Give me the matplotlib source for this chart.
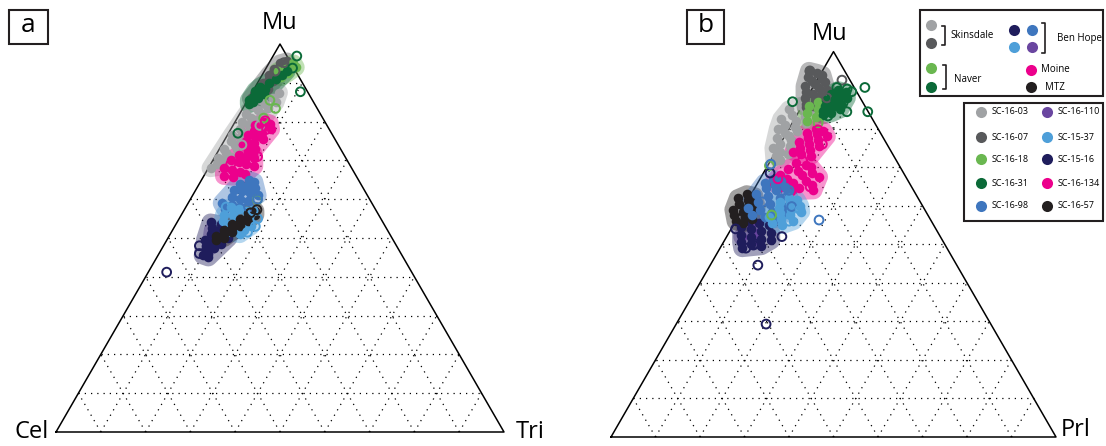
import numpy as np
import matplotlib.pyplot as plt
from matplotlib.patches import Polygon, Rectangle

plt.rcParams['font.family'] = ['Open Sans', 'DejaVu Sans']

# All points are (Mu %, Tri %) for panel a and (Mu %, Prl %) for panel b,
# read off the reference figure.

# ---- panel a ----
a_0603 = [(87.5, 6), (86, 5.5), (85.5, 3), (85, 6.5), (84.5, 4.5), (84, 2), (83.5, 5.5),
          (83, 3.5), (82, 1.5), (82, 5), (81, 3), (80.5, 4.5), (80, 1.5), (79, 3.5),
          (78.5, 5), (78, 2), (77, 4), (76.5, 1), (76, 3), (75, 5), (75, 1.5), (74, 3),
          (73, 1), (73, 4), (72, 2), (71, 3.5), (70.5, 0.8), (70, 2.5), (69, 1.5),
          (68.5, 3), (68, 0.5)]
a_0603_open = [(79, 6), (74, 4.5)]
a_0607 = [(95.5, 3.8), (95, 2.5), (94.5, 4), (94, 3), (93.5, 2), (93, 3.5), (92.5, 2.5),
          (92, 1.5), (91.5, 3), (91, 2), (90.5, 3.2), (90, 1.2), (89.5, 2.5), (89, 1.5),
          (88.5, 3), (88, 1), (87.5, 2), (87, 0.8), (86.5, 1.8), (86, 0.5), (85.5, 1.2)]
a_0607_open = [(95.2, 3.3), (93, 2.4)]
a_0618 = [(95, 5.5), (94, 6.5), (93.5, 4.5), (92.5, 5.5), (91.5, 4.5), (93, 3)]
a_0618_open = [(83.4, 7.3), (80.9, 5.9), (59.9, 15), (85.5, 5)]
a_0631 = [(93, 5), (92, 4.5), (91, 3.5), (90, 2.5), (89, 1), (88.5, 2.5), (88, 0.5),
          (87.5, 1.8), (87, 3), (86.5, 1), (86, 2.2), (85.5, 0.3), (85, 1.5), (84.5, 0.8)]
a_0631_open = [(96.9, 5.3), (93.8, 5.9), (87.7, 10.7), (77, 2.1), (88, 2.5), (86, 1.2)]
a_0698 = [(65, 10.5), (64.5, 12), (64, 9), (63.5, 11), (63, 13), (62.5, 8.5), (62, 10.5),
          (61.5, 12.5), (61, 14.5), (60.5, 9), (60, 11), (59.5, 13), (59, 7.5), (58.5, 10),
          (58, 12), (57.5, 9)]
a_0698_open = [(60, 15), (58, 14)]
a_16110 = [(52, 9), (50, 10), (48, 10.5)]
a_1537 = [(58, 10), (57.5, 12), (57, 14), (56, 9.5), (56, 11.5), (55.5, 16), (55, 13),
          (54.5, 10), (54, 15), (53.5, 12), (53, 17), (52.5, 14), (52, 16), (51.5, 12.5),
          (51, 15.5)]
a_1537_open = [(55, 17.5), (53, 18), (51.5, 17), (57, 15.5), (58, 9)]
a_1516 = [(54, 7.5), (53.5, 10), (53, 12), (52.5, 8.5), (52, 10.5), (51.5, 13), (51, 9),
          (50.5, 11), (50, 13.5), (49.5, 8.5), (49, 10.5), (48.5, 12.5), (48, 9.5),
          (47.5, 11.5), (47, 10), (46, 11), (45.5, 10), (45, 11.5)]
a_1516_open = [(41.2, 4.1), (46, 9), (48, 8)]
a_134_1 = [(80, 6.5), (79.5, 8), (79, 5), (78.5, 7), (78, 9), (77.5, 5.5), (77, 7.5),
           (76.5, 4.5), (76, 6.5), (75.5, 8.5), (75, 5), (74.5, 7), (74, 4.5), (73.5, 6),
           (73, 8)]
a_134_2 = [(72.5, 6.5), (72, 8), (71.5, 5), (71, 7), (70.5, 9), (70, 4), (69.5, 6), (69, 8),
           (68.5, 10), (68, 3.5), (67.5, 5.5), (67, 7.5), (66.5, 9), (66, 4.5), (65.8, 6.5)]
a_134_open = [(80.2, 6.6), (78, 8), (71, 9.5), (69, 4.5)]
a_1657 = [(57, 16), (56.5, 14.5), (56, 16.5), (55.5, 15), (55, 13.5), (54.5, 15.5), (54, 14),
          (53.5, 12.5), (53, 14.5), (52.5, 13), (52, 11.5), (51.5, 13.5), (51, 12),
          (50.5, 10.5), (50, 12.5), (49.5, 11)]
a_1657_open = [(57.3, 16.2), (56.5, 15.2)]

# ---- panel b ----
b_0603 = [(86, 0), (85.5, 3), (85, -2.5), (84.5, 1.5), (84, 4), (83.5, -1), (83, 2),
          (82.5, -3), (82, 0.5), (81.5, 3), (81, -1.5), (80.5, 1), (80, -2.5), (79.5, 2),
          (79, -0.5), (78, 1), (77.5, -1.5), (77, 2), (76, 0), (75.5, 2.5), (75, -1),
          (74, 1), (73.5, 3), (73, 0.5), (72, 2), (71.5, 1)]
b_0607 = [(95, -3), (94.5, -1), (94, 0.5), (93.5, -2.5), (93, 1), (92.5, -1), (92, 2),
          (91.5, 0), (91, -2), (90.5, 1.5), (90, 3.5), (89.5, -1), (89, 1), (88.5, 3),
          (88, -0.5), (87.5, 2), (87, 4), (86.5, 0.5), (86, 2.5), (85.5, 1)]
b_0607_open = [(95, -2.8), (92.6, 5.6), (93.5, 0), (88, 4.5)]
b_0618 = [(87, 3), (86, 1.5), (85, 4), (84, 2), (83, 4.5), (82, 3)]
b_0618_open = [(81.5, 5.8), (70.4, 0.4), (57.6, 7.3)]
b_0631 = [(90, 6), (89.5, 8), (89, 5), (88.5, 7), (88, 9), (87.5, 4.5), (87, 6.5),
          (86.5, 8.5), (86, 5), (85.5, 7), (85, 9), (84.5, 5.5), (84, 7.5), (83.5, 6)]
b_0631_open = [(90.7, 5.4), (90.3, 7.9), (89.6, 9.3), (90.7, 11.7), (86.7, 8.8), (84.4, 10.8),
               (84.4, 15.5), (87, -2.7), (83.3, 7.1), (87.4, 6.8)]
b_0698 = [(67, 3), (66.5, 5), (66, 1.5), (65.5, 4), (65, 6.5), (64.5, 2.5), (64, 5), (63.5, 8),
          (63, 1), (62.5, 4), (62, 7), (61.5, 9.5), (61, 2.5), (60.5, 5.5), (60, 8.5),
          (59.5, 1), (59, 4), (58.5, 7), (58, 10), (57.5, 3), (57, 6), (56.5, 8.5)]
b_0698_open = [(56.3, 18.6), (63.9, 6.4), (59.8, 10.7), (70.8, 0.5), (61, 3.5), (64, 8)]
b_16110 = [(55, 4), (53, 6), (51, 7), (52, 3.5)]
b_1537 = [(62, 9), (61.5, 11), (61, 7.5), (60.5, 10), (60, 12.5), (59.5, 8), (59, 11),
          (58.5, 13.5), (58, 9), (57.5, 11.5), (57, 7), (56.5, 10), (56, 13), (55.5, 8.5),
          (55, 11)]
b_1537_open = [(59, 13), (56, 12)]
b_1516 = [(56, 3), (55.5, 5.5), (55, 8), (54.5, 2), (54, 4.5), (53.5, 7), (53, 9.5), (52.5, 3),
          (52, 5.5), (51.5, 8), (51, 10.5), (50.5, 4), (50, 6.5), (49.5, 9), (49, 5)]
b_1516_open = [(49, 5.8), (50.1, 7.3), (52, 12.4), (44.6, 10.7), (29.3, 20.2), (68.5, 1.5),
               (49.8, 7.1), (54, 1)]
b_1657 = [(63, -1), (62.5, 1), (62, -2.5), (61.5, 0), (61, 2), (60.5, -1.5), (60, 1),
          (59.5, 3), (59, -2), (58.5, 0.5), (58, 2.5), (57.5, -1), (57, 1.5), (56.5, 3.5),
          (56, 0), (55.5, 2)]
b_134_1 = [(80, 6), (79.5, 8), (79, 4.5), (78.5, 7), (78, 9.5), (77.5, 5.5), (77, 8), (76.5, 4),
           (76, 6.5), (75.5, 9), (75, 5), (74.5, 7.5), (74, 4), (73.5, 6), (73, 8.5)]
b_134_2 = [(71, 6), (70.5, 8.5), (70, 10), (69.5, 5), (69, 7.5), (68.5, 11), (68, 4), (68, 9),
           (67.5, 13), (67, 6), (66.5, 10.5), (66, 3.5), (66, 8), (65.5, 12.5), (65, 5.5),
           (64.5, 10), (64, 13.5), (63.8, 8.5)]
b_134_open = [(79.7, 6.7), (71.7, 7.2), (64.9, 12.3), (67, 4), (76, 9.5)]

samples = ['SC-16-03', 'SC-16-07', 'SC-16-18', 'SC-16-31', 'SC-16-98',
           'SC-16-110', 'SC-15-37', 'SC-15-16', 'SC-16-134', 'SC-16-57']
colors = ['#a0a2a4', '#58595b', '#6ab750', '#0b6a38', '#3e76be',
          '#6a46a0', '#4e9fd9', '#1f1d5c', '#ec008c', '#231f20']
col = dict(zip(samples, colors))

# draw order: (sample, filled groups, open circles)
layers_a = [('SC-16-03', [a_0603], a_0603_open), ('SC-16-07', [a_0607], a_0607_open),
            ('SC-16-18', [a_0618], a_0618_open), ('SC-16-31', [a_0631], a_0631_open),
            ('SC-16-134', [a_134_1, a_134_2], a_134_open),
            ('SC-16-110', [a_16110], []), ('SC-15-16', [a_1516], a_1516_open),
            ('SC-16-98', [a_0698], a_0698_open), ('SC-15-37', [a_1537], a_1537_open),
            ('SC-16-57', [a_1657], a_1657_open)]
layers_b = [('SC-16-03', [b_0603], []), ('SC-16-07', [b_0607], b_0607_open),
            ('SC-16-18', [b_0618], b_0618_open), ('SC-16-31', [b_0631], b_0631_open),
            ('SC-16-134', [b_134_1, b_134_2], b_134_open),
            ('SC-16-110', [b_16110], []), ('SC-15-16', [b_1516], b_1516_open),
            ('SC-16-57', [b_1657], []),
            ('SC-16-98', [b_0698], b_0698_open), ('SC-15-37', [b_1537], b_1537_open)]

W, H = 1106, 446
fig = plt.figure(figsize=(W / 100, H / 100), dpi=100)
SQ3 = np.sqrt(3) / 2


def to_xy(pts):
    p = np.asarray(pts, dtype=float) / 100.0
    return np.column_stack([p[:, 1] + p[:, 0] / 2, p[:, 0] * SQ3])


def convex_hull(pts):
    pts = sorted(map(tuple, pts))

    def cross(o, a, b):
        return (a[0] - o[0]) * (b[1] - o[1]) - (a[1] - o[1]) * (b[0] - o[0])

    lower, upper = [], []
    for p in pts:
        while len(lower) >= 2 and cross(lower[-2], lower[-1], p) <= 0:
            lower.pop()
        lower.append(p)
    for p in reversed(pts):
        while len(upper) >= 2 and cross(upper[-2], upper[-1], p) <= 0:
            upper.pop()
        upper.append(p)
    return np.array(lower[:-1] + upper[:-1])


def halo(xy, r):
    ang = np.linspace(0, 2 * np.pi, 24, endpoint=False)
    ring = xy[:, None, :] + r * np.column_stack([np.cos(ang), np.sin(ang)])[None]
    return convex_hull(ring.reshape(-1, 2))


def panel(x0, x1, left, base, side):
    ax = fig.add_axes([x0 / W, 0, (x1 - x0) / W, 1])
    ax.set_xlim((x0 - left) / side, (x1 - left) / side)
    ax.set_ylim((base - H) / side, base / side)
    ax.axis('off')
    ax.plot([0, 1, 0.5, 0], [0, 0, SQ3, 0], color='k', lw=1.1, zorder=1)
    for i in range(1, 10):
        f = i / 10
        segs = [((f / 2, 1 - f / 2), (f * SQ3, f * SQ3)),
                ((f, f + (1 - f) / 2), (0, (1 - f) * SQ3)),
                ((1 - f, (1 - f) / 2), (0, (1 - f) * SQ3))]
        for xs, ys in segs:
            ax.plot(xs, ys, color='k', lw=0.9, ls=(0, (1, 4)), zorder=1)
    return ax


def draw(ax, layers, side):
    for name, groups, opens in layers:
        c = col[name]
        for g in groups:
            ax.add_patch(Polygon(halo(to_xy(g), 9 / side), closed=True, fc=c,
                                 ec='none', alpha=0.42, zorder=2))
    for name, groups, opens in layers:
        c = col[name]
        for g in groups:
            xy = to_xy(g)
            ax.scatter(xy[:, 0], xy[:, 1], s=48, color=c, lw=0, zorder=3)
        if opens:
            xy = to_xy(opens)
            ax.scatter(xy[:, 0], xy[:, 1], s=40, facecolors='none', edgecolors=c,
                       lw=1.4, zorder=4)


ax_a = panel(0, 565, 56, 432, 448)
draw(ax_a, layers_a, 448)
ax_b = panel(575, 1106, 611, 437, 445)
draw(ax_b, layers_b, 445)

# overlay in pixel coordinates for labels and legend
ov = fig.add_axes([0, 0, 1, 1])
ov.set_xlim(0, W)
ov.set_ylim(H, 0)
ov.axis('off')

ov.text(280, 23, 'Mu', ha='center', va='center', fontsize=17)
ov.text(830, 34, 'Mu', ha='center', va='center', fontsize=17)
ov.text(32, 432, 'Cel', ha='center', va='center', fontsize=17)
ov.text(530, 432, 'Tri', ha='center', va='center', fontsize=17)
ov.text(1076, 430, 'Prl', ha='center', va='center', fontsize=17)
for x, lab, w in [(9, 'a', 39), (687, 'b', 37)]:
    ov.add_patch(Rectangle((x, 10), w, 34, fill=False, ec='#231f20', lw=1.5))
    ov.text(x + w / 2, 26, lab, ha='center', va='center', fontsize=19)

# legend box 1: groups
ov.add_patch(Rectangle((920, 10), 183, 86, fill=False, ec='#231f20', lw=1.5))
grp_pts = [(931, 25, 'SC-16-03'), (931, 43, 'SC-16-07'), (1014, 30, 'SC-15-16'),
           (1032, 30, 'SC-16-98'), (1014, 47, 'SC-15-37'), (1032, 47, 'SC-16-110'),
           (931, 68, 'SC-16-18'), (931, 87, 'SC-16-31'), (1031, 70, 'SC-16-134'),
           (1031, 87, 'SC-16-57')]
for x, y, name in grp_pts:
    ov.plot(x, y, 'o', ms=8, color=col[name], mec='none')
for x, y0, y1 in [(945, 26, 45), (1045, 23, 53), (946, 65, 89)]:
    ov.plot([x - 3, x, x, x - 3], [y0, y0, y1, y1], color='#231f20', lw=1.2)
ov.text(950, 35, 'Skinsdale', va='center', fontsize=7)
ov.text(1057, 39, 'Ben Hope', va='center', fontsize=7)
ov.text(954, 79, 'Naver', va='center', fontsize=7)
ov.text(1041, 70, 'Moine', va='center', fontsize=7)
ov.text(1045, 87, 'MTZ', va='center', fontsize=7)

# legend box 2: samples
ov.add_patch(Rectangle((964, 103), 139, 118, fill=False, ec='#231f20', lw=1.5))
rows = [112, 137, 159, 183, 206]
for i, name in enumerate(samples):
    x = 981 if i < 5 else 1047
    y = rows[i % 5]
    ov.plot(x, y, 'o', ms=8, color=col[name], mec='none')
    ov.text(x + 11, y, name, va='center', fontsize=6.5)

fig.savefig('out.png', dpi=100)
